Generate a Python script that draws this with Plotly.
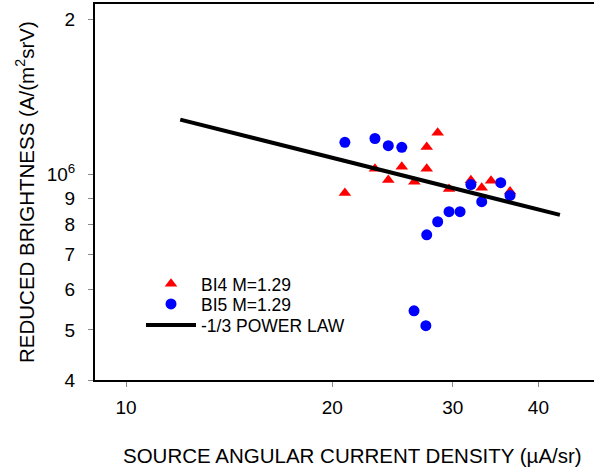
import plotly.graph_objects as go

# ---- data ----
bi4_x = [20.87, 23.09, 24.15, 25.27, 26.36, 27.48, 27.48, 28.51, 29.62, 31.88, 33.06, 34.11, 36.36]
bi4_y = [0.921e6, 1.026e6, 0.976e6, 1.035e6, 0.968e6, 1.130e6, 1.026e6, 1.205e6, 0.937e6,
         0.975e6, 0.943e6, 0.972e6, 0.927e6]
bi5_x = [20.87, 23.09, 24.15, 25.27, 26.33, 27.40, 27.48, 28.51, 29.62, 30.74, 31.88, 33.06, 35.24, 36.36]
bi5_y = [1.154e6, 1.174e6, 1.137e6, 1.129e6, 0.5446e6, 0.5095e6, 0.7642e6, 0.810e6, 0.847e6,
         0.847e6, 0.956e6, 0.886e6, 0.964e6, 0.911e6]
law_x = [12.0, 43.0]
law_y = [1.277e6, 0.835e6]

x_tickvals = [10, 20, 30, 40]
x_ticktext = ["10", "20", "30", "40"]
y_tickvals = [4e5, 5e5, 6e5, 7e5, 8e5, 9e5, 1e6, 2e6]
y_ticktext = ["4", "5", "6", "7", "8", "9", "10<sup>6</sup>", "2"]

series_names = ["BI4 M=1.29", "BI5 M=1.29", "-1/3 POWER LAW"]
x_title = "SOURCE ANGULAR CURRENT DENSITY (µA/sr)"
y_title = "REDUCED BRIGHTNESS (A/(m<sup>2</sup>srV)"

FONT = "Liberation Sans, Arial, sans-serif"

fig = go.Figure()
fig.add_trace(go.Scatter(x=bi4_x, y=bi4_y, mode="markers", name=series_names[0],
                         legend="legend",
                         marker=dict(symbol="triangle-up", size=11, color="#ff0000",
                                     line=dict(width=0))))
fig.add_trace(go.Scatter(x=bi5_x, y=bi5_y, mode="markers", name=series_names[1],
                         legend="legend2",
                         marker=dict(symbol="circle", size=11, color="#0000ff",
                                     line=dict(width=0))))
fig.add_trace(go.Scatter(x=law_x, y=law_y, mode="lines", name=series_names[2],
                         legend="legend3",
                         line=dict(color="black", width=4)))

leg_common = dict(x=0.0922, xanchor="left", yanchor="top",
                  bgcolor="rgba(0,0,0,0)", borderwidth=0,
                  font=dict(family=FONT, size=17.5, color="black"),
                  itemwidth=50)

fig.update_layout(
    width=594, height=469,
    margin=dict(l=95, r=0, t=4, b=89),
    paper_bgcolor="white", plot_bgcolor="white",
    font=dict(family=FONT, size=19, color="black"),
    showlegend=True,
    legend=dict(y=0.3032, **leg_common),
    legend2=dict(y=0.2500, **leg_common),
    legend3=dict(y=0.1941, **leg_common),
    xaxis=dict(type="log", range=[0.95474, 1.68321], showgrid=False, zeroline=False,
               showline=True, linecolor="black", linewidth=2, mirror=True,
               ticks="outside", ticklen=5, tickcolor="#888888", tickwidth=1,
               tickvals=x_tickvals, ticktext=x_ticktext, ticklabelstandoff=4,
               automargin=False),
    yaxis=dict(type="log", range=[5.60206, 6.33012], showgrid=False, zeroline=False,
               showline=True, linecolor="black", linewidth=2, mirror=False,
               ticks="outside", ticklen=5, tickcolor="#888888", tickwidth=1,
               tickvals=y_tickvals, ticktext=y_ticktext, ticklabelstandoff=9,
               automargin=False),
    annotations=[
        dict(text=x_title, xref="paper", yref="paper", x=0.517, y=-0.1995,
             xanchor="center", yanchor="middle", showarrow=False,
             font=dict(family=FONT, size=20.5, color="black")),
        dict(text=y_title, xref="paper", yref="paper", x=-0.1403, y=0.5,
             xanchor="center", yanchor="middle", showarrow=False, textangle=-90,
             font=dict(family=FONT, size=20.5, color="black")),
    ],
)

fig.write_html("out.html", config={"displayModeBar": False},
               post_script="document.body.style.margin='0';")
